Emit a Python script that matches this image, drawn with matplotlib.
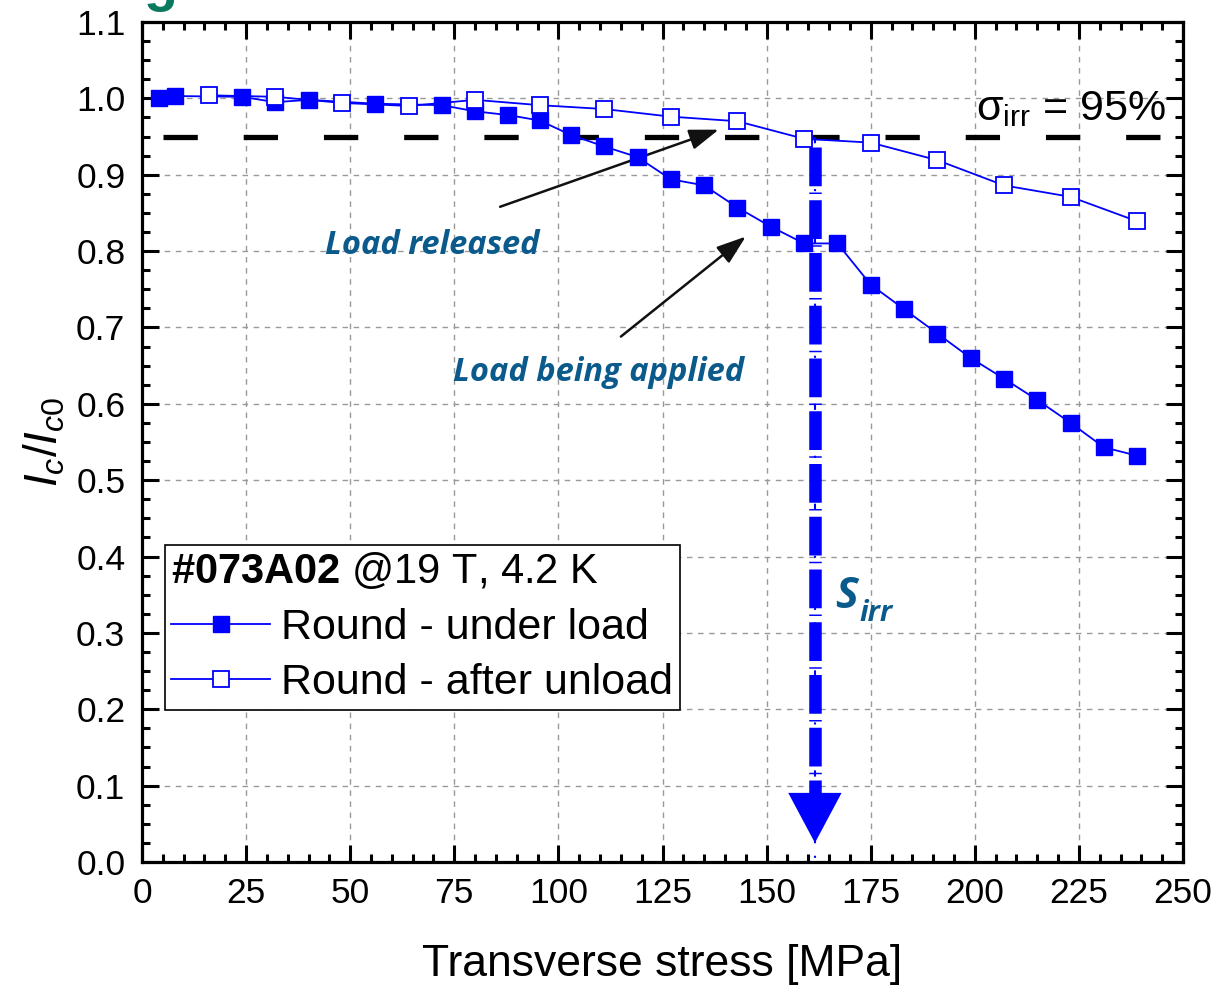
import numpy as np
import matplotlib
matplotlib.use("Agg")
import matplotlib.pyplot as plt
from matplotlib.ticker import MultipleLocator

plt.rcParams['font.family'] = ['Liberation Sans', 'DejaVu Sans']
plt.rcParams['mathtext.fontset'] = 'custom'
plt.rcParams['mathtext.rm'] = 'Liberation Sans'
plt.rcParams['mathtext.it'] = 'Liberation Sans:italic'
plt.rcParams['mathtext.bf'] = 'Liberation Sans:bold'

# under load (filled squares)
stress_load = [4, 8, 24, 32, 40, 56, 72, 80, 88, 95.5, 103, 111, 119, 127, 135,
               143, 151, 159, 167, 175, 183, 191, 199, 207, 215, 223, 231, 239]
ic_load = [1.000, 1.003, 1.002, 0.995, 0.998, 0.993, 0.991, 0.983, 0.978, 0.971,
           0.952, 0.937, 0.923, 0.894, 0.886, 0.857, 0.832, 0.810, 0.810, 0.756,
           0.724, 0.692, 0.660, 0.633, 0.605, 0.575, 0.543, 0.532]

# after unload (open squares)
stress_unload = [16, 32, 48, 64, 80, 95.6, 111, 127, 143, 159, 175, 191, 207, 223, 239]
ic_unload = [1.004, 1.002, 0.994, 0.990, 0.998, 0.991, 0.986, 0.976, 0.970, 0.947,
             0.942, 0.919, 0.886, 0.871, 0.839]

sigma_irr = 161.6
crit_level = 0.95
blue = '#0000ff'
note_col = '#0b5a8c'

fig = plt.figure(figsize=(12.21, 9.85), dpi=100)
ax = fig.add_axes([0.1163, 0.1249, 0.8526, 0.8528])

ax.axhline(crit_level, xmin=0.02, xmax=1.0, color='black', lw=3.8,
           linestyle=(0, (6.5, 8.7)), zorder=2)

ax.plot(stress_load, ic_load, '-s', color=blue, lw=1.3, ms=12,
        mfc=blue, mec=blue, label='Round - under load', zorder=4)
ax.plot(stress_unload, ic_unload, '-s', color=blue, lw=1.3, ms=12,
        mfc='white', mec=blue, mew=1.3, label='Round - after unload', zorder=5)

# vertical sigma_irr marker
ax.plot([sigma_irr, sigma_irr], [crit_level, 0.0], color=blue, lw=1.5,
        linestyle=(0, (3, 6, 1, 6)), zorder=3)
ax.plot([sigma_irr, sigma_irr], [crit_level - 0.014, 0.072], color=blue, lw=9,
        linestyle=(0, (3.1, 0.5, 0.12, 0.5)), solid_capstyle='butt', zorder=6)
ax.annotate('', xy=(sigma_irr, 0.025), xytext=(sigma_irr, 0.072),
            arrowprops=dict(arrowstyle='-|>,head_width=0.48,head_length=0.9',
                            color=blue, lw=0, mutation_scale=40, shrinkA=0, shrinkB=0),
            zorder=6)

ax.set_xlim(0, 250)
ax.set_ylim(0.0, 1.1)
ax.xaxis.set_major_locator(MultipleLocator(25))
ax.xaxis.set_minor_locator(MultipleLocator(5))
ax.yaxis.set_major_locator(MultipleLocator(0.1))
ax.yaxis.set_minor_locator(MultipleLocator(0.025))
ax.yaxis.set_major_formatter(plt.FormatStrFormatter('%.1f'))
ax.tick_params(which='both', direction='in', top=True, right=True, labelsize=25.5, width=2.2)
ax.tick_params(which='major', length=12)
ax.tick_params(axis='y', which='major', pad=12)
ax.tick_params(axis='x', which='major', pad=11)
ax.tick_params(which='minor', length=6)
for s in ax.spines.values():
    s.set_linewidth(2.3)
ax.grid(True, which='major', color='#999999', linestyle=(0, (4, 4)), lw=1.0)

ax.set_xlabel('Transverse stress [MPa]', fontsize=32, labelpad=24)
ax.set_ylabel(r'$I_c/I_{c0}$', fontsize=33, labelpad=6)

ax.text(246, 0.971, r'σ$_{\rm irr}$ = 95%', fontsize=31, ha='right', va='baseline')

ax.text(44, 0.796, 'Load released', fontsize=23.5, fontfamily='Open Sans',
        fontweight='bold', fontstyle='italic', color=note_col, ha='left', va='baseline')
ax.text(74.7, 0.63, 'Load being applied', fontsize=23.5, fontfamily='Open Sans',
        fontweight='bold', fontstyle='italic', color=note_col, ha='left', va='baseline')
ax.annotate('', xy=(138.5, 0.959), xytext=(86, 0.858),
            arrowprops=dict(arrowstyle='-|>,head_width=0.35,head_length=1.0',
                            color='#111111', lw=1.8, mutation_scale=18, shrinkA=0, shrinkB=0))
ax.annotate('', xy=(145, 0.819), xytext=(115, 0.688),
            arrowprops=dict(arrowstyle='-|>,head_width=0.35,head_length=1.0',
                            color='#111111', lw=1.8, mutation_scale=18, shrinkA=0, shrinkB=0))

ax.text(166.5, 0.332, 'S', fontsize=31, fontfamily='Open Sans', fontweight='bold',
        fontstyle='italic', color=note_col, ha='left', va='baseline')
ax.text(172.2, 0.315, 'irr', fontsize=21, fontfamily='Open Sans', fontweight='bold',
        fontstyle='italic', color=note_col, ha='left', va='baseline')

leg = ax.legend(loc='lower left', bbox_to_anchor=(0.022, 0.181), borderaxespad=0,
                fontsize=31, title=r'$\mathbf{\#073A02}$ @19 T, 4.2 K',
                title_fontsize=30, alignment='left', frameon=True, fancybox=False,
                edgecolor='black', framealpha=1, handlelength=2.3, handletextpad=0.25,
                labelspacing=0.36, borderpad=0.15)
leg.get_frame().set_linewidth(1.2)

fig.text(0.118, 1.0, 'g', fontsize=40, fontweight='bold', color='#0a7a5e',
         ha='left', va='baseline')

fig.savefig('out.png', dpi=100)
